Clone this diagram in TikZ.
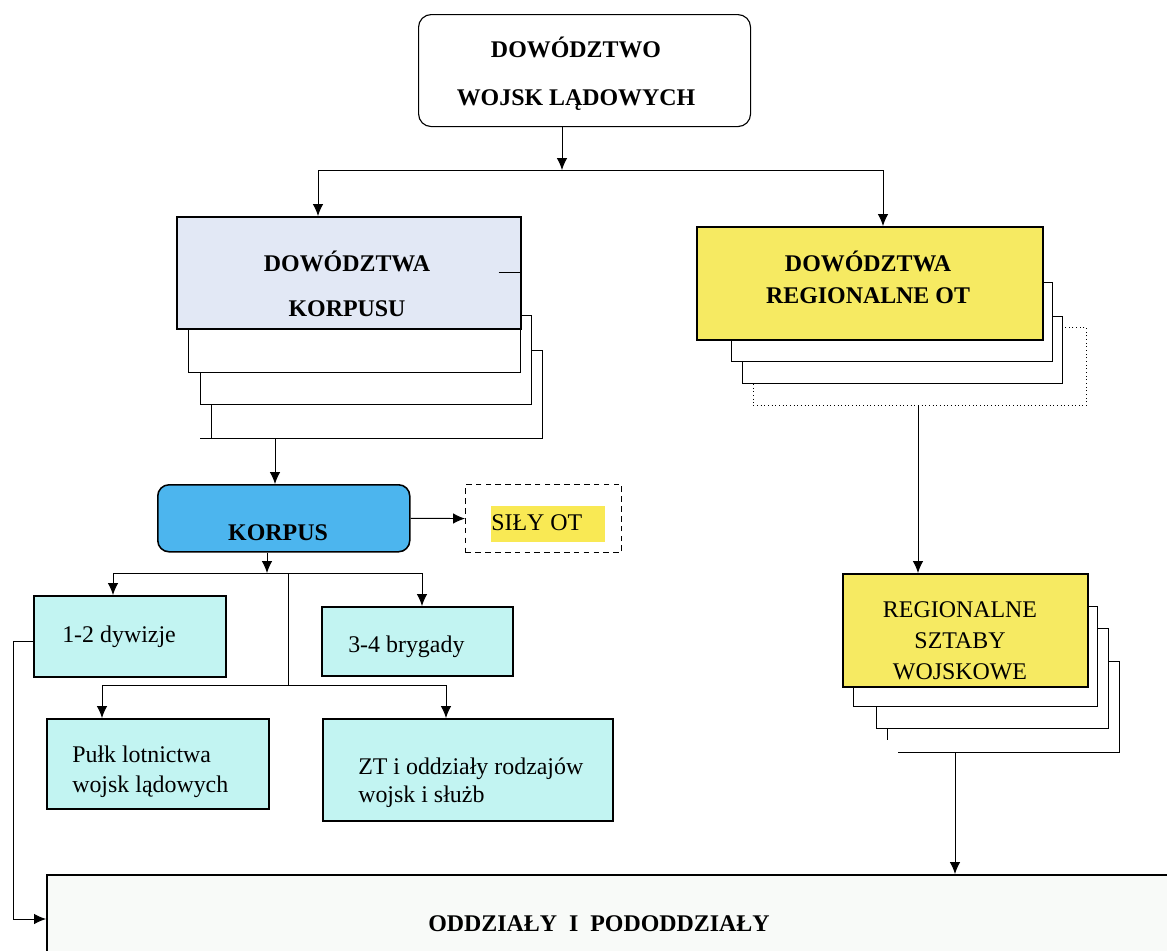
\documentclass[tikz,border=0pt]{standalone}
\usepackage{fontspec}
\setmainfont{Liberation Serif}
\usepackage{tikz}
\usetikzlibrary{arrows.meta,calc,positioning}
\usepackage{xcolor}
\newcommand{\myunit}{0.025cm}
\tikzset{
    sizesty/.style 2 args={minimum width=#1*\myunit, minimum height=#2*\myunit},
    boxsty/.style={draw, rectangle, anchor=north west, inner sep=0pt, line width=1.1pt},
    stacksty/.style={draw, fill=white, rectangle, anchor=north west, inner sep=0pt, line width=0.6pt},
    stlinesty/.style={line width=0.6pt},
    hqsty/.style={boxsty, fill=white, rounded corners=9pt, line width=0.8pt},
    korpsty/.style={boxsty, fill=korpgray},
    otsty/.style={boxsty, fill=otyellow},
    korpussty/.style={boxsty, fill=korpblue, rounded corners=8pt},
    unitsty/.style={boxsty, fill=unitcyan},
    silysty/.style={boxsty, dash pattern=on 4pt off 3pt, line width=0.8pt},
    hlsty/.style={fill=hlyellow, inner sep=0pt, text height=17pt, text depth=8.5pt},
    namesty/.style={font=\fontsize{17}{#1}\selectfont\bfseries, align=center, inner sep=0pt},
    namesty/.default=20,
    labsty/.style={font=\fontsize{17}{#1}\selectfont, align=left, inner sep=0pt},
    labsty/.default=20,
    linesty/.style={line width=0.7pt},
    arrsty/.style={linesty, ->},
}
\definecolor{korpgray}{RGB}{226,232,245}
\definecolor{otyellow}{RGB}{246,234,98}
\definecolor{korpblue}{RGB}{76,181,238}
\definecolor{unitcyan}{RGB}{194,244,242}
\definecolor{hlyellow}{RGB}{249,233,84}
\definecolor{bottomgray}{RGB}{248,250,248}

\begin{document}
\begin{tikzpicture}[x=\myunit, y=-\myunit, >={Latex[length=8.5pt,width=7.5pt]}]
  \useasboundingbox (0,0) rectangle (1167,950);

  % naczelne dowodztwo
  \node[hqsty, sizesty={332}{112}] (dwl) at (418,14) {};
  \node[namesty=34] (dwltxt) at (576,74) {DOWÓDZTWO\\WOJSK LĄDOWYCH};

  % dowodztwa korpusu (stos)
  \node[stacksty, sizesty={331}{88}] (dk4) at (211,350) {};
  \node[stacksty, sizesty={331}{89}] (dk3) at (200,315) {};
  \node[stacksty, sizesty={332}{72}] (dk2) at (188,300) {};
  \node[korpsty, sizesty={344}{112}] (dk) at (176,216) {};
  \draw[linesty] ([xshift=-23*\myunit]dk.east) -- (dk.east);
  \draw[stlinesty] (dk4.south west) -- ++(-11,0);
  \node[namesty=32] (dktxt) at (347,284) {DOWÓDZTWA\\KORPUSU};

  % dowodztwa regionalne (stos)
  \node[stacksty, dotted, sizesty={333}{78}] (dr4) at (753,327) {};
  \node[stacksty, sizesty={320}{67}] (dr3) at (742,316) {};
  \node[stacksty, sizesty={321}{79}] (dr2) at (731,282) {};
  \node[otsty, sizesty={346}{113}] (dr) at (696,226) {};
  \node[namesty=22.75] (drtxt) at (868,277) {DOWÓDZTWA\\REGIONALNE OT};

  % korpus i sily OT
  \node[korpussty, sizesty={252}{67}] (korpus) at (157,484) {};
  \node[namesty] (korpustxt) at (278,533) {KORPUS};
  \node[silysty, sizesty={156}{68}] (sily) at (465,484) {};
  \node[labsty, hlsty, anchor=base west] (silytxt) at (491,530) {SIŁY OT\hspace{16pt}};

  % jednostki korpusu
  \node[unitsty, sizesty={192}{81}] (dyw) at (33,595) {};
  \node[labsty, anchor=base west] (dywtxt) at (62,642) {1-2 dywizje};
  \node[unitsty, sizesty={191}{69}] (bryg) at (321,606) {};
  \node[labsty, anchor=base west] (brygtxt) at (348,652) {3-4 brygady};
  \node[unitsty, sizesty={222}{90}] (pulk) at (46,718) {};
  \node[labsty=21.3, anchor=west] (pulktxt) at (72,772) {Pułk lotnictwa\\wojsk lądowych};
  \node[unitsty, sizesty={290}{102}] (zt) at (322,718) {};
  \node[labsty=20, anchor=west] (zttxt) at (358,783) {ZT i oddziały rodzajów\\wojsk i służb};

  % regionalne sztaby (stos)
  \draw[stlinesty] (887,728) -- (887,740);
  \draw[stlinesty] (898,752) -- (1119,752) -- (1119,661) -- (1108,661);
  \node[stacksty, sizesty={232}{100}] (rs3) at (876,628) {};
  \node[stacksty, sizesty={244}{100}] (rs2) at (853,606) {};
  \node[otsty, sizesty={245}{113}] (rs) at (842,573) {};
  \node[labsty=22, align=center] (rstxt) at (960,641) {REGIONALNE\\SZTABY\\WOJSKOWE};
  \coordinate (rs4) at (955,752);

  % oddzialy
  \node[boxsty, fill=bottomgray, sizesty={1140}{100}] (oddz) at (46,874) {};
  \node[namesty, anchor=base] (oddztxt) at (599,931) {ODDZIAŁY\hspace{0.5em}I\hspace{0.5em}PODODDZIAŁY};

  % polaczenia
  \coordinate (j1) at (562,170);
  \draw[arrsty] (j1 |- dwl.south) -- (j1);
  \draw[arrsty] (j1) -| ($(dk.north west)+(142,0)$);
  \draw[arrsty] (j1) -| ($(dr.north west)+(187,0)$);

  \coordinate (dkout) at ($(dk4.south west)+(64,0)$);
  \draw[arrsty] (dkout) -- (dkout |- korpus.north);
  \draw[arrsty] (korpus.east) -- (sily.west);

  \coordinate (j2) at (267,573);
  \coordinate (dywin) at ($(dyw.north west)+(80,0)$);
  \coordinate (brygin) at ($(bryg.north west)+(101,0)$);
  \draw[arrsty] (j2 |- korpus.south) -- (j2);
  \draw[arrsty] (j2) -| (dywin);
  \draw[arrsty] (j2) -| (brygin);

  \coordinate (j3) at (288,573);
  \coordinate (j4) at (288,685);
  \coordinate (pulkin) at ($(pulk.north west)+(56,0)$);
  \coordinate (ztin) at ($(zt.north west)+(124,0)$);
  \draw[linesty] (j3) -- (j4);
  \draw[arrsty] (j4) -| (pulkin);
  \draw[arrsty] (j4) -| (ztin);

  \coordinate (oddzin) at ($(oddz.north west)+(0,45)$);
  \draw[arrsty] ($(dyw.west)+(0,5)$) -- ++(-20,0) |- (oddzin);

  \coordinate (drout) at ($(dr4.south west)+(165,0)$);
  \draw[arrsty] (drout) -- (drout |- rs.north);
  \draw[arrsty] (rs4) -- (rs4 |- oddz.north);
\end{tikzpicture}
\end{document}
